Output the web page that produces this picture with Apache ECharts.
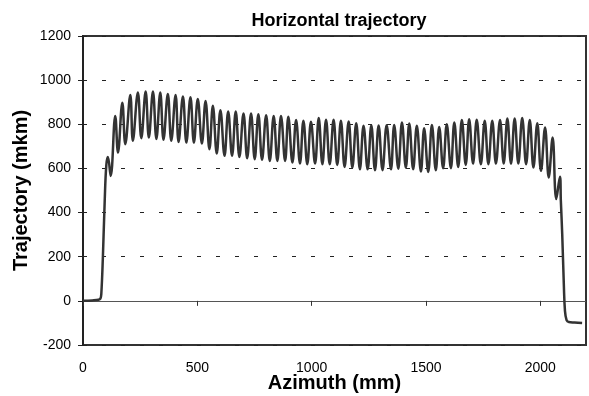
<!DOCTYPE html>
<html>
<head>
<meta charset="utf-8">
<script src="https://cdn.jsdelivr.net/npm/echarts@6/dist/echarts.min.js"></script>
<style>
html,body{margin:0;padding:0;background:#fff;}
#chart{width:589px;height:396px;}
</style>
</head>
<body>
<div id="chart"></div>
<script>
var chartTitle = 'Horizontal trajectory';
var xTitle = 'Azimuth (mm)';
var yTitle = 'Trajectory (mkm)';
var xTicks = [0, 500, 1000, 1500, 2000];
var yTicks = [-200, 0, 200, 400, 600, 800, 1000, 1200];

var azimuth = [
  0, 40, 68, 76, 80, 87, 95, 102,
  109, 121, 141, 153, 172, 185, 207, 218, 240, 255, 274, 288,
  306, 321, 338, 352, 371, 386, 405, 418, 437, 452, 470, 485,
  502, 520, 536, 553, 568, 585, 601, 619, 635, 652, 668, 684,
  702, 718, 735, 751, 767, 783, 801, 817, 834, 850, 866, 884,
  898, 916, 932, 949, 964, 981, 997, 1015, 1031, 1047, 1063, 1079,
  1096, 1112, 1128, 1144, 1162, 1178, 1195, 1211, 1227, 1245, 1261, 1277,
  1293, 1310, 1328, 1347, 1361, 1379, 1395, 1412, 1427, 1444, 1460, 1478,
  1492, 1510, 1526, 1543, 1558, 1575, 1591, 1609, 1624, 1641, 1657, 1674,
  1689, 1706, 1722, 1740, 1757, 1773, 1790, 1806, 1824, 1840, 1856, 1872,
  1888, 1904, 1921, 1938, 1954, 1970, 1987, 2003, 2021, 2037, 2054, 2070,
  2086, 2090, 2096, 2103, 2108, 2115, 2125, 2150, 2183
];

var trajectory = [
  0, 2, 5, 10, 30, 200, 455, 615,
  652, 566, 838, 672, 898, 710, 933, 725, 944, 737, 948, 740,
  948, 733, 944, 730, 937, 725, 933, 720, 926, 717, 922, 717,
  914, 713, 906, 687, 884, 668, 864, 657, 858, 657, 858, 652,
  849, 646, 849, 642, 846, 639, 841, 634, 838, 634, 838, 634,
  834, 627, 819, 622, 816, 619, 811, 622, 828, 619, 820, 619,
  820, 616, 816, 607, 813, 604, 805, 596, 793, 596, 796, 592,
  795, 592, 796, 596, 797, 599, 808, 604, 804, 596, 793, 586,
  782, 584, 797, 592, 788, 601, 800, 601, 808, 607, 819, 616,
  823, 622, 820, 619, 816, 619, 816, 622, 819, 622, 826, 622,
  826, 622, 828, 619, 819, 604, 805, 589, 785, 559, 740, 461,
  562, 453, 302, 75, -45, -87, -96, -98, -100
];

var seriesData = azimuth.map(function (x, i) { return [x, trajectory[i]]; });

var chart = echarts.init(document.getElementById('chart'));
var font = 'Liberation Sans, Arial, sans-serif';
chart.setOption({
  animation: false,
  backgroundColor: '#fff',
  title: {
    text: chartTitle,
    left: 334, top: 7,
    textAlign: 'center',
    textStyle: {fontFamily: font, fontWeight: 'bold', fontSize: 18, color: '#000'}
  },
  grid: {
    left: 83, right: 3, top: 36, bottom: 51,
    outerBoundsMode: 'none', containLabel: false,
    show: true, borderColor: '#333', borderWidth: 2, backgroundColor: 'transparent'
  },
  xAxis: [
    {
      type: 'value', min: 0, max: 2200, interval: 500, position: 'bottom',
      axisLine: {show: true, onZero: true, lineStyle: {color: '#555', width: 1}},
      axisTick: {show: true, length: 5, lineStyle: {color: '#333', width: 1}},
      axisLabel: {show: false},
      splitLine: {show: false}
    },
    {
      type: 'value', min: 0, max: 2200, interval: 500, position: 'bottom',
      axisLine: {show: false, onZero: false},
      axisTick: {show: false},
      axisLabel: {
        show: true, margin: 16, showMaxLabel: false,
        fontFamily: font, fontSize: 14, color: '#000',
        formatter: function (v) { return xTicks.indexOf(v) >= 0 ? String(v) : ''; }
      },
      splitLine: {show: false},
      name: xTitle, nameLocation: 'middle', nameGap: 28, nameMoveOverlap: false,
      nameTextStyle: {fontFamily: font, fontWeight: 'bold', fontSize: 20, color: '#000'}
    }
  ],
  yAxis: {
    type: 'value', min: -200, max: 1200, interval: 200,
    axisLine: {show: true, lineStyle: {color: '#222', width: 2}},
    axisTick: {show: true, length: 5, lineStyle: {color: '#222', width: 1}},
    axisLabel: {
      margin: 12, fontFamily: font, fontSize: 14, color: '#000',
      formatter: function (v) { return yTicks.indexOf(v) >= 0 ? String(v) : ''; }
    },
    splitLine: {show: true, lineStyle: {color: '#222', width: 1, type: [4, 15], dashOffset: 0}},
    name: yTitle, nameLocation: 'middle', nameGap: 52, nameMoveOverlap: false,
    nameTextStyle: {fontFamily: font, fontWeight: 'bold', fontSize: 20, color: '#000'}
  },
  series: [{
    type: 'line',
    xAxisIndex: 0,
    data: seriesData,
    showSymbol: false,
    smooth: 0.4,
    lineStyle: {color: '#333', width: 2.5},
    z: 5
  }]
});
</script>
</body>
</html>
